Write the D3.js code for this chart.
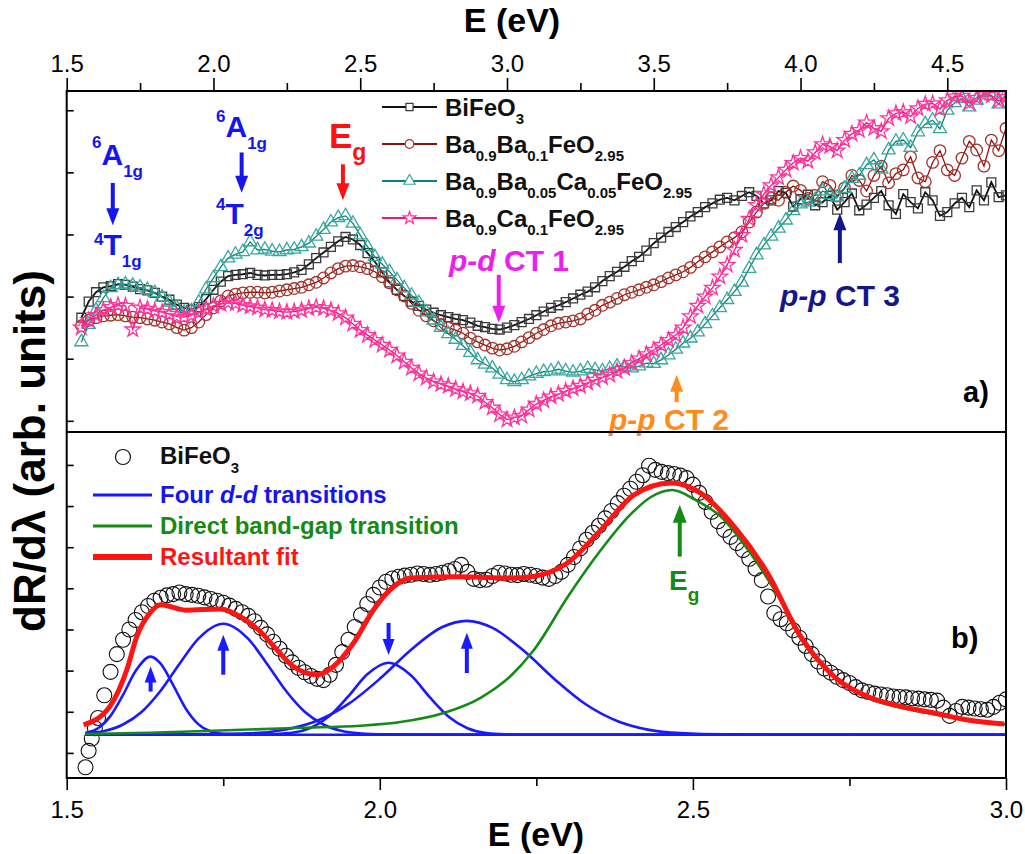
<!DOCTYPE html>
<html>
<head>
<meta charset="utf-8">
<script src="https://cdn.jsdelivr.net/npm/d3@7"></script>
<style>
  body { margin: 0; background: #fff; }
  svg text { font-family: "Liberation Sans", Arial, Helvetica, sans-serif; }
</style>
</head>
<body>
<svg id="chart" width="1025" height="854"></svg>
<script>
// ---------- panel (a): derivative reflectance of the four samples ----------
const energyTop = [
  1.55,1.575,1.6,1.625,1.65,1.675,1.7,1.725,1.75,1.775,
  1.8,1.825,1.85,1.875,1.9,1.925,1.95,1.975,2,2.025,
  2.05,2.075,2.1,2.125,2.15,2.175,2.2,2.225,2.25,2.275,
  2.3,2.325,2.35,2.375,2.4,2.425,2.45,2.475,2.5,2.525,
  2.55,2.575,2.6,2.625,2.65,2.675,2.7,2.725,2.75,2.775,
  2.8,2.825,2.85,2.875,2.9,2.925,2.95,2.975,3,3.025,
  3.05,3.075,3.1,3.125,3.15,3.175,3.2,3.225,3.25,3.275,
  3.3,3.325,3.35,3.375,3.4,3.425,3.45,3.475,3.5,3.525,
  3.55,3.575,3.6,3.625,3.65,3.675,3.7,3.725,3.75,3.775,
  3.8,3.825,3.85,3.875,3.9,3.925,3.95,3.975,4,4.025,
  4.05,4.075,4.1,4.125,4.15,4.175,4.2,4.225,4.25,4.275,
  4.3,4.325,4.35,4.375,4.4,4.425,4.45,4.475,4.5,4.525,
  4.55,4.575,4.6,4.625,4.65,4.675,4.7];

const bifeo3 = [
  1.66,1.92,2.07,2.15,2.17,2.20,2.19,2.16,2.12,2.10,
  2.06,2.00,1.95,1.87,1.82,1.79,1.83,1.96,2.11,2.24,
  2.33,2.35,2.36,2.38,2.35,2.34,2.35,2.35,2.36,2.39,
  2.43,2.52,2.62,2.71,2.80,2.89,2.96,2.92,2.83,2.70,
  2.56,2.39,2.23,2.11,2.01,1.92,1.85,1.79,1.74,1.70,
  1.67,1.64,1.62,1.58,1.53,1.51,1.48,1.47,1.50,1.54,
  1.59,1.64,1.70,1.76,1.82,1.86,1.91,1.97,2.03,2.08,
  2.15,2.25,2.33,2.40,2.48,2.57,2.64,2.74,2.86,2.95,
  3.04,3.12,3.20,3.29,3.36,3.44,3.50,3.56,3.59,3.55,
  3.62,3.68,3.62,3.50,3.55,3.70,3.67,3.45,3.57,3.64,
  3.47,3.52,3.62,3.40,3.52,3.66,3.39,3.48,3.59,3.70,
  3.47,3.33,3.65,3.52,3.42,3.68,3.55,3.30,3.36,3.50,
  3.59,3.44,3.71,3.55,3.84,3.60,3.63];

const baBa01 = [
  1.53,1.62,1.66,1.69,1.70,1.71,1.69,1.67,1.66,1.64,
  1.62,1.59,1.56,1.50,1.46,1.50,1.59,1.71,1.82,1.93,
  2.01,2.04,2.06,2.07,2.07,2.06,2.07,2.09,2.11,2.13,
  2.15,2.19,2.23,2.30,2.38,2.45,2.49,2.50,2.48,2.45,
  2.40,2.32,2.22,2.11,2.01,1.89,1.78,1.69,1.61,1.55,
  1.50,1.46,1.41,1.33,1.27,1.22,1.17,1.14,1.16,1.20,
  1.27,1.34,1.41,1.47,1.53,1.57,1.59,1.61,1.64,1.72,
  1.78,1.86,1.91,1.97,2.03,2.07,2.11,2.15,2.19,2.24,
  2.30,2.35,2.40,2.47,2.56,2.64,2.72,2.80,2.88,2.95,
  3.04,3.20,3.36,3.50,3.59,3.55,3.68,3.78,3.71,3.58,
  3.63,3.85,3.79,3.62,3.75,3.95,3.87,3.70,3.95,4.10,
  3.83,3.98,4.04,4.25,3.91,3.85,4.16,4.35,4.04,3.95,
  4.23,4.50,4.36,4.10,4.52,4.35,4.71];

const baBaCa = [
  1.27,1.55,1.78,1.98,2.14,2.19,2.20,2.18,2.15,2.11,
  2.06,1.99,1.91,1.82,1.75,1.77,1.91,2.12,2.30,2.48,
  2.62,2.68,2.72,2.88,2.75,2.76,2.73,2.72,2.75,2.76,
  2.80,2.86,2.97,3.08,3.20,3.27,3.30,3.18,2.99,2.80,
  2.64,2.52,2.40,2.27,2.14,2.02,1.90,1.75,1.62,1.50,
  1.40,1.31,1.21,1.10,0.98,0.91,0.85,0.75,0.66,0.63,
  0.66,0.72,0.76,0.79,0.80,0.83,0.80,0.78,0.80,0.84,
  0.82,0.80,0.84,0.88,0.87,0.85,0.88,0.93,0.92,0.98,
  1.06,1.15,1.25,1.33,1.43,1.56,1.69,1.82,1.95,2.08,
  2.23,2.45,2.67,2.83,2.97,3.10,3.23,3.38,3.49,3.52,
  3.56,3.70,3.64,3.60,3.74,3.90,3.95,4.12,4.20,4.05,
  4.36,4.50,4.52,4.40,4.65,4.78,4.84,4.70,5.00,5.12,
  5.19,5.05,5.16,5.28,5.23,5.10,5.26];

const baCa01 = [
  1.50,1.62,1.70,1.78,1.83,1.86,1.85,1.47,1.82,1.80,
  1.77,1.75,1.72,1.68,1.67,1.70,1.75,1.80,1.85,1.88,
  1.90,1.89,1.86,1.84,1.82,1.79,1.78,1.76,1.75,1.76,
  1.78,1.81,1.83,1.81,1.78,1.73,1.66,1.56,1.46,1.38,
  1.30,1.22,1.14,1.05,0.95,0.85,0.76,0.69,0.63,0.59,
  0.56,0.51,0.47,0.44,0.40,0.30,0.21,0.10,0.02,0.05,
  0.08,0.18,0.27,0.33,0.39,0.43,0.48,0.52,0.56,0.61,
  0.66,0.70,0.74,0.80,0.85,0.93,1.00,1.07,1.14,1.22,
  1.30,1.38,1.50,1.68,1.85,2.00,2.14,2.32,2.51,2.75,
  2.99,3.25,3.47,3.65,3.79,3.92,4.04,4.15,4.23,4.18,
  4.32,4.45,4.42,4.35,4.52,4.62,4.68,4.80,4.71,4.66,
  4.87,4.95,4.97,4.90,5.03,5.10,5.11,5.02,5.16,5.22,
  5.23,5.12,5.20,5.25,5.24,5.15,5.21];

const topTicksX = [1.5, 2.0, 2.5, 3.0, 3.5, 4.0, 4.5];
const topMinorX = [1.75, 2.25, 2.75, 3.25, 3.75, 4.25];
const topTicksY = [0, 1, 2, 3, 4, 5];

// ---------- panel (b): BiFeO3 spectrum [E, signal] and its decomposition ----------
const spectrum = [
  [1.53,-0.35],[1.535,0.05],[1.54,0.35],[1.545,0.60],[1.55,0.85],[1.56,1.40],[1.57,1.97],[1.58,2.40],
  [1.59,2.75],[1.60,3.00],[1.61,3.23],[1.62,3.42],[1.63,3.57],[1.64,3.70],[1.65,3.77],[1.66,3.83],[1.67,3.86],[1.68,3.90],
  [1.69,3.86],[1.70,3.84],[1.71,3.82],[1.72,3.78],[1.73,3.74],[1.74,3.70],[1.75,3.65],[1.76,3.58],[1.77,3.50],[1.78,3.42],
  [1.79,3.33],[1.80,3.20],[1.81,3.04],[1.82,2.88],[1.83,2.70],[1.84,2.53],[1.85,2.36],[1.86,2.20],[1.87,2.07],[1.88,1.96],
  [1.89,1.87],[1.90,1.80],[1.91,1.77],[1.92,1.90],[1.93,2.14],[1.94,2.45],[1.95,2.75],[1.96,3.06],[1.97,3.35],[1.98,3.62],
  [1.99,3.84],[2.00,4.02],[2.01,4.16],[2.02,4.24],[2.03,4.28],[2.04,4.31],[2.05,4.33],[2.06,4.36],[2.07,4.35],[2.08,4.33],
  [2.09,4.35],[2.10,4.38],[2.11,4.42],[2.12,4.47],[2.13,4.57],[2.14,4.40],[2.15,4.23],[2.16,4.20],[2.17,4.21],[2.18,4.30],
  [2.19,4.38],[2.20,4.36],[2.21,4.33],[2.22,4.32],[2.23,4.35],[2.24,4.33],[2.25,4.30],[2.26,4.26],[2.27,4.23],[2.28,4.30],
  [2.29,4.40],[2.30,4.57],[2.31,4.76],[2.32,4.97],[2.33,5.18],[2.34,5.35],[2.35,5.52],[2.36,5.70],[2.37,5.88],[2.38,6.07],
  [2.39,6.25],[2.40,6.42],[2.41,6.59],[2.42,6.75],[2.43,6.98],[2.44,6.88],[2.45,6.83],[2.46,6.80],[2.47,6.78],[2.48,6.74],
  [2.49,6.68],[2.50,6.52],[2.51,6.32],[2.52,6.10],[2.53,5.86],[2.54,5.63],[2.55,5.42],[2.56,5.25],[2.57,5.10],[2.58,4.93],
  [2.59,4.72],[2.60,4.48],[2.61,4.20],[2.62,3.80],[2.63,3.40],[2.64,3.25],[2.65,3.15],[2.66,2.98],[2.67,2.80],[2.68,2.60],
  [2.69,2.40],[2.70,2.22],[2.71,2.05],[2.72,1.95],[2.73,1.85],[2.74,1.77],[2.75,1.70],[2.76,1.60],[2.77,1.52],[2.78,1.48],
  [2.79,1.44],[2.80,1.42],[2.81,1.40],[2.82,1.37],[2.83,1.36],[2.84,1.35],[2.85,1.33],[2.86,1.32],[2.87,1.30],[2.88,1.29],
  [2.89,1.27],[2.90,1.10],[2.91,0.90],[2.92,1.02],[2.93,1.12],[2.94,1.10],[2.95,1.08],[2.96,1.06],[2.97,1.05],[2.98,1.12],
  [2.99,1.22],[3.00,1.30]];

// four d-d components, [E, signal]
const ddComp1 = [[1.53,0.49],[1.55,0.60],[1.57,0.90],[1.59,1.41],[1.61,1.99],[1.634,2.34],[1.65,2.17],[1.67,1.65],
  [1.69,1.08],[1.71,0.70],[1.73,0.52],[1.75,0.46],[1.80,0.44],[3.00,0.44]];
const ddComp2 = [[1.53,0.47],[1.56,0.53],[1.59,0.69],[1.62,1.00],[1.65,1.51],[1.68,2.16],[1.71,2.77],[1.75,3.14],
  [1.79,2.77],[1.82,2.16],[1.85,1.51],[1.88,1.00],[1.91,0.69],[1.94,0.53],[1.97,0.47],[2.00,0.45],[3.00,0.44]];
const ddComp3 = [[1.53,0.44],[1.80,0.44],[1.86,0.49],[1.89,0.61],[1.92,0.90],[1.95,1.38],[1.98,1.91],[2.014,2.19],
  [2.05,1.88],[2.08,1.35],[2.11,0.88],[2.14,0.60],[2.17,0.48],[2.20,0.45],[2.25,0.44],[3.00,0.44]];
const ddComp4 = [[1.53,0.44],[1.70,0.45],[1.80,0.48],[1.85,0.57],[1.90,0.78],[1.95,1.19],[2.00,1.80],[2.05,2.51],
  [2.10,3.06],[2.139,3.21],[2.18,3.04],[2.23,2.48],[2.28,1.78],[2.33,1.17],[2.38,0.77],[2.43,0.56],[2.48,0.48],
  [2.55,0.45],[3.00,0.44]];
const bandGap = [[1.53,0.46],[1.633,0.49],[1.756,0.55],[1.873,0.61],[1.969,0.66],[2.033,0.75],[2.102,0.97],
  [2.161,1.34],[2.209,1.87],[2.246,2.50],[2.30,3.79],[2.353,4.93],[2.40,5.79],[2.433,6.22],[2.467,6.39],
  [2.504,6.15],[2.544,5.75],[2.592,4.85],[2.64,3.70],[2.672,2.78],[2.72,1.92],[2.779,1.33],[2.832,1.10],
  [2.885,0.94],[2.944,0.78],[3.00,0.69]];
const fitTotal = [[1.527,0.68],[1.569,1.13],[1.596,2.02],[1.612,2.83],[1.633,3.40],[1.650,3.60],[1.690,3.47],
  [1.745,3.50],[1.782,3.27],[1.809,2.95],[1.836,2.50],[1.862,2.10],[1.900,1.90],[1.926,2.10],[1.958,2.67],
  [1.990,3.48],[2.022,4.04],[2.049,4.25],[2.129,4.28],[2.209,4.25],[2.245,4.29],[2.299,4.61],[2.353,5.42],
  [2.406,6.27],[2.465,6.56],[2.513,6.31],[2.566,5.50],[2.619,4.37],[2.672,2.83],[2.726,1.85],[2.779,1.37],
  [2.832,1.13],[2.885,0.97],[2.939,0.80],[2.997,0.70]];

const botTicksX = [1.5, 2.0, 2.5, 3.0];
const botMinorX = [1.75, 2.25, 2.75];
const botTicksY = [0, 1, 2, 3, 4, 5, 6, 7];

// arrows: energy, tail and tip in signal units
const topArrows = [
  {e: 1.657, from: 3.83, to: 3.15, color: "#1515ee"},
  {e: 2.096, from: 4.32, to: 3.67, color: "#1515ee"},
  {e: 2.441, from: 4.13, to: 3.55, color: "#ff1111"},
  {e: 2.972, from: 2.35, to: 1.58, color: "#ee1eee"},
  {e: 3.578, from: 0.30, to: 0.74, color: "#ff8c1a"},
  {e: 4.134, from: 2.54, to: 3.34, color: "#16168c"}
];
const ddArrowEnergy = [1.634, 1.750, 2.014, 2.139];
const ddArrowFrom = [1.49, 1.90, 3.16, 1.94];
const ddArrowTo = [2.10, 2.87, 2.38, 2.92];
const egArrow = {e: 2.479, from: 4.77, to: 6.03};

// ---------- layout ----------
const L = 66.7, R = 1006, T = 91, MID = 432, B = 778;
const svg = d3.select("#chart");
svg.append("rect").attr("width", 1025).attr("height", 854).attr("fill", "#fff");

const xTop = d3.scaleLinear().domain([1.5, 4.7]).range([L, R]);
const yTop = d3.scaleLinear().domain([-0.18, 5.31]).range([MID, T]);
const xBot = d3.scaleLinear().domain([1.5, 3.0]).range([L, R]);
const yBot = d3.scaleLinear().domain([-0.61, 7.8]).range([B, MID]);

const defs = svg.append("defs");
defs.append("clipPath").attr("id", "clipTop").append("rect")
  .attr("x", L).attr("y", T).attr("width", R - L).attr("height", MID - T);
defs.append("clipPath").attr("id", "clipBot").append("rect")
  .attr("x", L).attr("y", MID).attr("width", R - L).attr("height", B - MID);

// rich text with super/subscripts
function rich(g, x, y, parts, size, fill, anchor) {
  const t = g.append("text").attr("x", x).attr("y", y)
    .attr("fill", fill).style("font-weight", "bold").style("font-size", size + "px")
    .attr("text-anchor", anchor || "start");
  let cur = 0;
  parts.forEach(p => {
    const off = p.off || 0;
    t.append("tspan").attr("dy", off - cur)
      .style("font-size", (p.size || size) + "px")
      .style("font-style", p.italic ? "italic" : null)
      .text(p.t);
    cur = off;
  });
  return t;
}

function arrow(g, x, y1, y2, color, w, hw, hl) {
  const dir = y2 > y1 ? 1 : -1;
  g.append("line").attr("x1", x).attr("x2", x).attr("y1", y1).attr("y2", y2 - dir * (hl - 1))
    .attr("stroke", color).attr("stroke-width", w);
  g.append("path")
    .attr("d", `M${x - hw},${y2 - dir * hl}L${x + hw},${y2 - dir * hl}L${x},${y2}Z`)
    .attr("fill", color);
}

// ---------- panel (a) data ----------
const sub = t => ({t, size: 15, off: 8});
const series = [
  {label: [{t: "BiFeO"}, sub("3")], values: bifeo3,
   sym: d3.symbolSquare, size: 80, stroke: "#3a3a3a", line: "#111", lw: 1.8, legSize: 50},
  {label: [{t: "Ba"}, sub("0.9"), {t: "Ba"}, sub("0.1"), {t: "FeO"}, sub("2.95")],
   values: baBa01, sym: d3.symbolCircle, size: 105, stroke: "#a3342a", line: "#8c1010", lw: 1.3, legSize: 60},
  {label: [{t: "Ba"}, sub("0.9"), {t: "Ba"}, sub("0.05"), {t: "Ca"}, sub("0.05"), {t: "FeO"}, sub("2.95")],
   values: baBaCa, sym: d3.symbolTriangle, size: 75, stroke: "#36a89e", line: "#0f8077", lw: 1.3, legSize: 55},
  {label: [{t: "Ba"}, sub("0.9"), {t: "Ca"}, sub("0.1"), {t: "FeO"}, sub("2.95")],
   values: baCa01, sym: d3.symbolStar, size: 75, stroke: "#ff3399", line: "#f0147a", lw: 1.3, legSize: 50}
];

const gTop = svg.append("g").attr("clip-path", "url(#clipTop)");
series.forEach(s => {
  const pts = energyTop.map((e, i) => [e, s.values[i]]);
  gTop.append("path").datum(pts)
    .attr("d", d3.line().x(d => xTop(d[0])).y(d => yTop(d[1])))
    .attr("fill", "none").attr("stroke", s.line).attr("stroke-width", s.lw);
  gTop.selectAll(null).data(pts).enter().append("path")
    .attr("transform", d => `translate(${xTop(d[0])},${yTop(d[1])})`)
    .attr("d", d3.symbol().type(s.sym).size(s.size))
    .attr("fill", "none").attr("stroke", s.stroke).attr("stroke-width", 1.3);
});

// legend (a)
const legA = svg.append("g");
const legY = [107, 144, 181, 218];
series.forEach((s, i) => {
  legA.append("line").attr("x1", 382).attr("x2", 437).attr("y1", legY[i]).attr("y2", legY[i])
    .attr("stroke", s.line).attr("stroke-width", 2);
  legA.append("path").attr("transform", `translate(409.5,${legY[i]})`)
    .attr("d", d3.symbol().type(s.sym).size(s.legSize))
    .attr("fill", "#fff").attr("stroke", s.stroke).attr("stroke-width", 1.2);
  rich(legA, 445, legY[i] + 9, s.label, 24, "#111");
});

// annotations (a)
const ann = svg.append("g");
topArrows.forEach(a => arrow(ann, xTop(a.e), yTop(a.from), yTop(a.to), a.color, 4, 6.5, 17));
const blue = "#1515ee";
rich(ann, 92, 165, [{t: "6", size: 17, off: -17}, {t: "A"}, {t: "1g", size: 17, off: 12}], 30, blue);
rich(ann, 94, 255, [{t: "4", size: 17, off: -10}, {t: "T"}, {t: "1g", size: 17, off: 12}], 30, blue);
rich(ann, 216, 137, [{t: "6", size: 17, off: -15}, {t: "A"}, {t: "1g", size: 17, off: 12}], 30, blue);
rich(ann, 216, 224, [{t: "4", size: 17, off: -14}, {t: "T"}, {t: "2g", size: 17, off: 12}], 30, blue);
rich(ann, 329, 148, [{t: "E"}, {t: "g", size: 23, off: 12}], 35, "#ff1111");
rich(ann, 449, 271, [{t: "p-d", italic: true}, {t: " CT 1"}], 30, "#ee1eee");
rich(ann, 609, 430, [{t: "p-p", italic: true}, {t: " CT 2"}], 30, "#ff8c1a");
rich(ann, 780, 306, [{t: "p-p", italic: true}, {t: " CT 3"}], 30, "#16168c");
rich(ann, 963, 402, [{t: "a)"}], 29, "#000");

// ---------- panel (b) ----------
const gBot = svg.append("g").attr("clip-path", "url(#clipBot)");
gBot.selectAll(null).data(spectrum).enter().append("circle")
  .attr("cx", d => xBot(d[0])).attr("cy", d => yBot(d[1])).attr("r", 7.5)
  .attr("fill", "none").attr("stroke", "#111").attr("stroke-width", 1.1);

const curve = d3.line().x(d => xBot(d[0])).y(d => yBot(d[1])).curve(d3.curveMonotoneX);
[ddComp1, ddComp2, ddComp3, ddComp4].forEach(c => {
  gBot.append("path").datum(c).attr("d", curve)
    .attr("fill", "none").attr("stroke", "#1a1aff").attr("stroke-width", 2.6);
});
gBot.append("path").datum(bandGap).attr("d", curve)
  .attr("fill", "none").attr("stroke", "#158a15").attr("stroke-width", 2.6);
gBot.append("path").datum(fitTotal).attr("d", curve)
  .attr("fill", "none").attr("stroke", "#ff1414").attr("stroke-width", 5);

// arrows (b)
const annB = svg.append("g");
ddArrowEnergy.forEach((e, i) =>
  arrow(annB, xBot(e), yBot(ddArrowFrom[i]), yBot(ddArrowTo[i]), "#1a1aff", 4, 6, 16));
arrow(annB, xBot(egArrow.e), yBot(egArrow.from), yBot(egArrow.to), "#158a15", 4, 7, 18);
rich(annB, 669, 590, [{t: "E"}, {t: "g", size: 19, off: 11}], 28, "#158a15");
rich(annB, 951, 648, [{t: "b)"}], 29, "#000");

// legend (b)
const legB = svg.append("g");
legB.append("circle").attr("cx", 123).attr("cy", 457).attr("r", 7.5)
  .attr("fill", "none").attr("stroke", "#111").attr("stroke-width", 1.2);
rich(legB, 160, 464, [{t: "BiFeO"}, {t: "3", size: 15, off: 9}], 24, "#111");
legB.append("line").attr("x1", 93).attr("x2", 152).attr("y1", 495).attr("y2", 495)
  .attr("stroke", "#1a1aff").attr("stroke-width", 3);
rich(legB, 160, 503, [{t: "Four "}, {t: "d-d", italic: true}, {t: " transitions"}], 24, "#1515ee");
legB.append("line").attr("x1", 93).attr("x2", 152).attr("y1", 526).attr("y2", 526)
  .attr("stroke", "#158a15").attr("stroke-width", 3);
rich(legB, 160, 534, [{t: "Direct band-gap transition"}], 24, "#158a15");
legB.append("line").attr("x1", 93).attr("x2", 152).attr("y1", 557).attr("y2", 557)
  .attr("stroke", "#ff1414").attr("stroke-width", 6);
rich(legB, 160, 565, [{t: "Resultant fit"}], 24, "#ff1414");

// ---------- axes and frame ----------
function styleAxis(g) {
  g.select(".domain").remove();
  g.selectAll(".tick line").attr("stroke", "#000").attr("stroke-width", 1.6);
  g.selectAll(".tick text").attr("fill", "#000").style("font-size", "24px")
    .style("font-family", '"Liberation Sans", Arial, sans-serif');
}
svg.append("g").attr("transform", `translate(0,${T})`)
  .call(d3.axisTop(xTop).tickValues(topTicksX).tickFormat(d3.format(".1f")).tickSize(13).tickPadding(6))
  .call(styleAxis);
svg.append("g").attr("transform", `translate(0,${T})`)
  .call(d3.axisTop(xTop).tickValues(topMinorX).tickFormat("").tickSize(8)).call(styleAxis);
svg.append("g").attr("transform", `translate(${L},0)`)
  .call(d3.axisLeft(yTop).tickValues(topTicksY).tickFormat("").tickSize(-7)).call(styleAxis);

svg.append("g").attr("transform", `translate(0,${B})`)
  .call(d3.axisBottom(xBot).tickValues(botTicksX).tickFormat(d3.format(".1f")).tickSize(12).tickPadding(11))
  .call(styleAxis);
svg.append("g").attr("transform", `translate(0,${B})`)
  .call(d3.axisBottom(xBot).tickValues(botMinorX).tickFormat("").tickSize(8)).call(styleAxis);
svg.append("g").attr("transform", `translate(${L},0)`)
  .call(d3.axisLeft(yBot).tickValues(botTicksY).tickFormat("").tickSize(-7)).call(styleAxis);

svg.append("rect").attr("x", L).attr("y", T).attr("width", R - L).attr("height", B - T)
  .attr("fill", "none").attr("stroke", "#000").attr("stroke-width", 2);
svg.append("line").attr("x1", L).attr("x2", R).attr("y1", MID).attr("y2", MID)
  .attr("stroke", "#000").attr("stroke-width", 2);

// titles
svg.append("text").attr("x", 512).attr("y", 32).attr("text-anchor", "middle")
  .style("font-weight", "bold").style("font-size", "34px").text("E (eV)");
svg.append("text").attr("x", 536).attr("y", 846).attr("text-anchor", "middle")
  .style("font-weight", "bold").style("font-size", "34px").text("E (eV)");
svg.append("text").attr("transform", "translate(45,451) rotate(-90)").attr("text-anchor", "middle")
  .style("font-weight", "bold").style("font-size", "44px").text("dR/dλ (arb. units)");
</script>
</body>
</html>
